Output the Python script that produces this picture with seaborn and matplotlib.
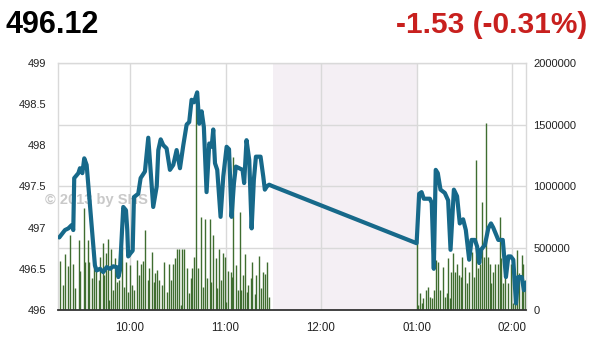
import matplotlib
matplotlib.use("Agg")
import matplotlib.pyplot as plt
import numpy as np
import pandas as pd
import seaborn as sns

# ---------------- data ----------------
last_price = "496.12"
change_text = "-1.53 (-0.31%)"
watermark = "\u00a9 2013 by SHS"

# price line: minutes after 09:00
price_minute = [15.6, 19.2, 21.3, 23.4, 24.4, 25.0, 27.6, 28.6, 30.1, 31.3,
                32.8, 38.0, 39.1, 41.2, 43.2, 45.4, 47.5, 49.5, 51.7, 52.7,
                53.7, 55.8, 57.5, 58.3, 58.9, 60.4, 61.7, 62.5, 65.2, 66.7,
                69.4, 71.5, 74.6, 76.8, 77.8, 79.3, 80.9, 83.0, 85.1, 87.2,
                89.3, 91.4, 93.5, 95.6, 97.2, 98.7, 100.2, 102.2, 103.5, 105.0,
                106.4, 108.1, 109.8, 111.3, 112.3, 113.4, 114.8, 116.9, 118.6, 120.7,
                122.2, 123.8, 125.3, 126.5, 128.6, 130.7, 131.7, 133.2, 134.9, 136.4,
                137.8, 139.1, 142.0, 143.7, 144.7, 146.0, 147.4, 149.8,
                240.0, 241.6, 243.1, 244.5, 248.3, 249.5, 250.8, 252.0, 253.3, 255.0,
                257.7, 259.8, 261.3, 263.4, 265.4, 267.1, 269.2, 270.9, 273.0, 274.5,
                276.6, 278.0, 279.3, 280.4, 282.9, 285.0, 286.7, 288.1, 291.3, 294.1,
                296.1, 297.6, 299.1, 300.7, 302.4, 303.8, 306.0, 307.4, 308.4]
price_value = [496.88, 496.97, 496.99, 497.03, 496.97, 497.60, 497.66, 497.72, 497.66, 497.84,
               497.76, 496.54, 496.48, 496.50, 496.46, 496.52, 496.50, 496.53, 496.52, 496.40,
               496.48, 497.25, 497.21, 496.97, 496.65, 496.69, 496.72, 497.37, 497.41, 497.60,
               497.68, 498.09, 497.25, 497.50, 497.94, 498.07, 498.00, 497.96, 497.70, 497.76,
               497.94, 497.72, 498.00, 498.25, 498.28, 498.55, 498.52, 498.64, 498.26, 498.41,
               498.22, 497.43, 498.02, 497.98, 498.19, 497.78, 497.70, 497.13, 497.62, 497.98,
               497.95, 497.13, 497.54, 497.74, 497.72, 497.70, 497.54, 498.06, 497.82, 496.99,
               497.58, 497.86, 497.86, 497.62, 497.46, 497.50, 497.52, 497.50,
               496.81, 497.41, 497.43, 497.35, 497.35, 497.30, 496.50, 497.70, 497.66, 497.46,
               497.42, 497.33, 496.73, 497.46, 497.38, 497.05, 497.10, 496.97, 496.61, 496.85,
               496.85, 496.77, 496.57, 496.73, 496.79, 496.99, 497.05, 497.00, 496.85, 496.85,
               496.40, 496.65, 496.65, 496.61, 496.08, 496.40, 496.40, 496.24, 496.33]

# volume bars: minutes after 09:00, volume in thousands
volume_minute = [16.1, 17.8, 19.4, 20.9, 22.5, 24.4, 25.5, 27.8, 28.8, 30.9,
                 32.0, 33.6, 34.5, 36.0, 37.6, 38.7, 40.4, 41.2, 42.9, 43.9,
                 44.9, 46.0, 47.0, 48.1, 49.5, 50.8, 51.8, 53.3, 55.0, 56.0,
                 57.5, 58.6, 60.0, 61.3, 62.7, 64.2, 65.5, 66.9, 68.0, 69.6,
                 71.1, 72.1, 73.6, 74.9, 75.9, 76.9, 78.4, 80.1, 81.5, 83.0,
                 84.5, 85.9, 87.0, 88.2, 89.3, 90.8, 91.8, 92.8, 93.9, 95.6,
                 97.0, 98.1, 99.1, 100.2, 101.4, 102.9, 104.4, 105.8, 107.1, 108.5,
                 110.0, 111.0, 112.3, 113.8, 114.8, 115.9, 117.3, 118.4, 119.6, 120.4,
                 121.7, 123.2, 123.8, 125.0, 126.3, 127.8, 129.0, 129.9, 131.1, 132.2,
                 133.2, 134.2, 135.8, 136.8, 138.3, 139.3, 141.0, 142.0, 143.5, 144.7,
                 146.2, 147.2,
                 240.0, 240.6, 242.1, 243.1, 244.1, 245.8, 247.3, 248.3, 249.4, 250.9,
                 252.1, 253.6, 254.6, 256.3, 257.8, 258.8, 259.8, 260.9, 261.9, 262.9,
                 264.0, 265.4, 266.7, 267.8, 268.8, 270.3, 271.7, 273.0, 274.5, 275.9,
                 277.6, 278.6, 279.7, 281.1, 282.2, 283.4, 284.9, 286.0, 287.0, 288.0,
                 289.5, 290.8, 292.2, 293.3, 294.3, 295.8, 297.4, 299.1, 300.6, 301.7,
                 303.1, 304.4, 305.9, 306.9, 308.0]
volume_k = [398, 202, 449, 357, 610, 376, 175, 565, 315, 825,
            390, 565, 390, 256, 484, 323, 242, 430, 538, 282,
            457, 578, 81, 497, 161, 417, 228, 242, 510, 188,
            390, 148, 363, 202, 161, 403, 282, 376, 395, 651,
            242, 336, 470, 228, 296, 323, 242, 202, 390, 148,
            376, 242, 376, 417, 497, 492, 40, 492, 497, 341,
            134, 256, 336, 430, 1750, 336, 752, 188, 739, 261,
            734, 228, 605, 417, 175, 497, 242, 457, 430, 67,
            315, 309, 269, 1240, 363, 161, 793, 161, 282, 449,
            148, 202, 256, 390, 127, 282, 438, 175, 304, 290,
            390, 107,
            560, 40, 134, 54, 94, 161, 188, 107, 94, 161,
            403, 390, 161, 349, 107, 134, 417, 94, 309, 457,
            309, 376, 282, 269, 430, 349, 215, 309, 470, 269,
            1210, 336, 376, 873, 430, 1510, 430, 376, 215, 309,
            376, 376, 752, 417, 215, 323, 215, 376, 54, 242,
            484, 296, 443, 376, 242]

price_ticks = [496, 496.5, 497, 497.5, 498, 498.5, 499]
price_tick_labels = ["496", "496.5", "497", "497.5", "498", "498.5", "499"]
volume_ticks = [0, 500000, 1000000, 1500000, 2000000]
volume_tick_labels = ["0", "500000", "1000000", "1500000", "2000000"]
time_ticks = [60, 120, 180, 240, 300]
time_labels = ["10:00", "11:00", "12:00", "01:00", "02:00"]
lunch_break = (150, 240)

# ---------------- style ----------------
sns.set_style("white")
plt.rcParams["font.family"] = ["Liberation Sans", "DejaVu Sans"]

LINE_C = "#17698a"
BAR_C = "#3f6d30"
GRID_C = "#d9d9d9"
TXT_C = "#222222"

fig = plt.figure(figsize=(5.94, 3.37), dpi=100)
ax = fig.add_axes([58.3 / 594, 27 / 337, (525.7 - 58.3) / 594, (310 - 62.7) / 337])

# lunch break shading
ax.axvspan(*lunch_break, color="#f4eff4", lw=0, zorder=0)

# volume bars
vol_df = pd.DataFrame({"minute": volume_minute,
                       "volume": np.array(volume_k) * 1000})
ax.vlines(vol_df["minute"], 0, vol_df["volume"], color=BAR_C, lw=1.0, zorder=2)

ax.set_xlim(15, 308.5)
ax.set_ylim(0, 2000000)
ax.set_xticks(time_ticks)
ax.set_xticklabels(time_labels)
ax.set_yticks(volume_ticks)
ax.set_yticklabels(volume_tick_labels)
ax.set_axisbelow(True)
ax.grid(True, color=GRID_C, lw=1)
for side in ["left", "right", "top"]:
    ax.spines[side].set_color(GRID_C)
    ax.spines[side].set_linewidth(1)
ax.spines["bottom"].set_color("#333333")
ax.spines["bottom"].set_linewidth(1.3)

# watermark
ax.text(45 / 594, 1 - 200 / 337, watermark, transform=fig.transFigure,
        color="#c9c9c9", fontsize=10.5, fontweight="bold", va="center", ha="left",
        zorder=1, clip_on=False)

# price line on twin axis
ax2 = ax.twinx()
price_df = pd.DataFrame({"minute": price_minute, "price": price_value})
sns.lineplot(data=price_df, x="minute", y="price", ax=ax2, color=LINE_C,
             linewidth=3.0, solid_joinstyle="round", solid_capstyle="round")
ax2.set_ylim(496, 499)
ax2.set_xlim(15, 308.5)
ax2.set_yticks(price_ticks)
ax2.set_yticklabels(price_tick_labels)
ax2.set_xlabel("")
ax2.set_ylabel("")
ax.set_xlabel("")
ax.set_ylabel("")
for side in ax2.spines:
    ax2.spines[side].set_visible(False)
ax2.grid(False)

# tick placement (after twinx, which resets the sides)
ax.yaxis.tick_right()
ax.tick_params(axis="y", left=False, right=False, labelleft=False, labelright=True,
               pad=2, labelsize=8, labelcolor=TXT_C)
ax.tick_params(axis="x", bottom=False, top=False, pad=5, labelsize=8.3, labelcolor=TXT_C)
ax2.yaxis.tick_left()
ax2.tick_params(axis="y", left=False, right=False, labelleft=True, labelright=False,
                pad=5, labelsize=8, labelcolor=TXT_C)

# header
fig.text(5 / 594, 1 - 33 / 337, last_price, fontsize=22, fontweight="bold",
         color="#000000", ha="left", va="baseline")
fig.text(587 / 594, 1 - 33 / 337, change_text, fontsize=21.5, fontweight="bold",
         color="#c8201e", ha="right", va="baseline")

fig.savefig("out.png", dpi=100)
